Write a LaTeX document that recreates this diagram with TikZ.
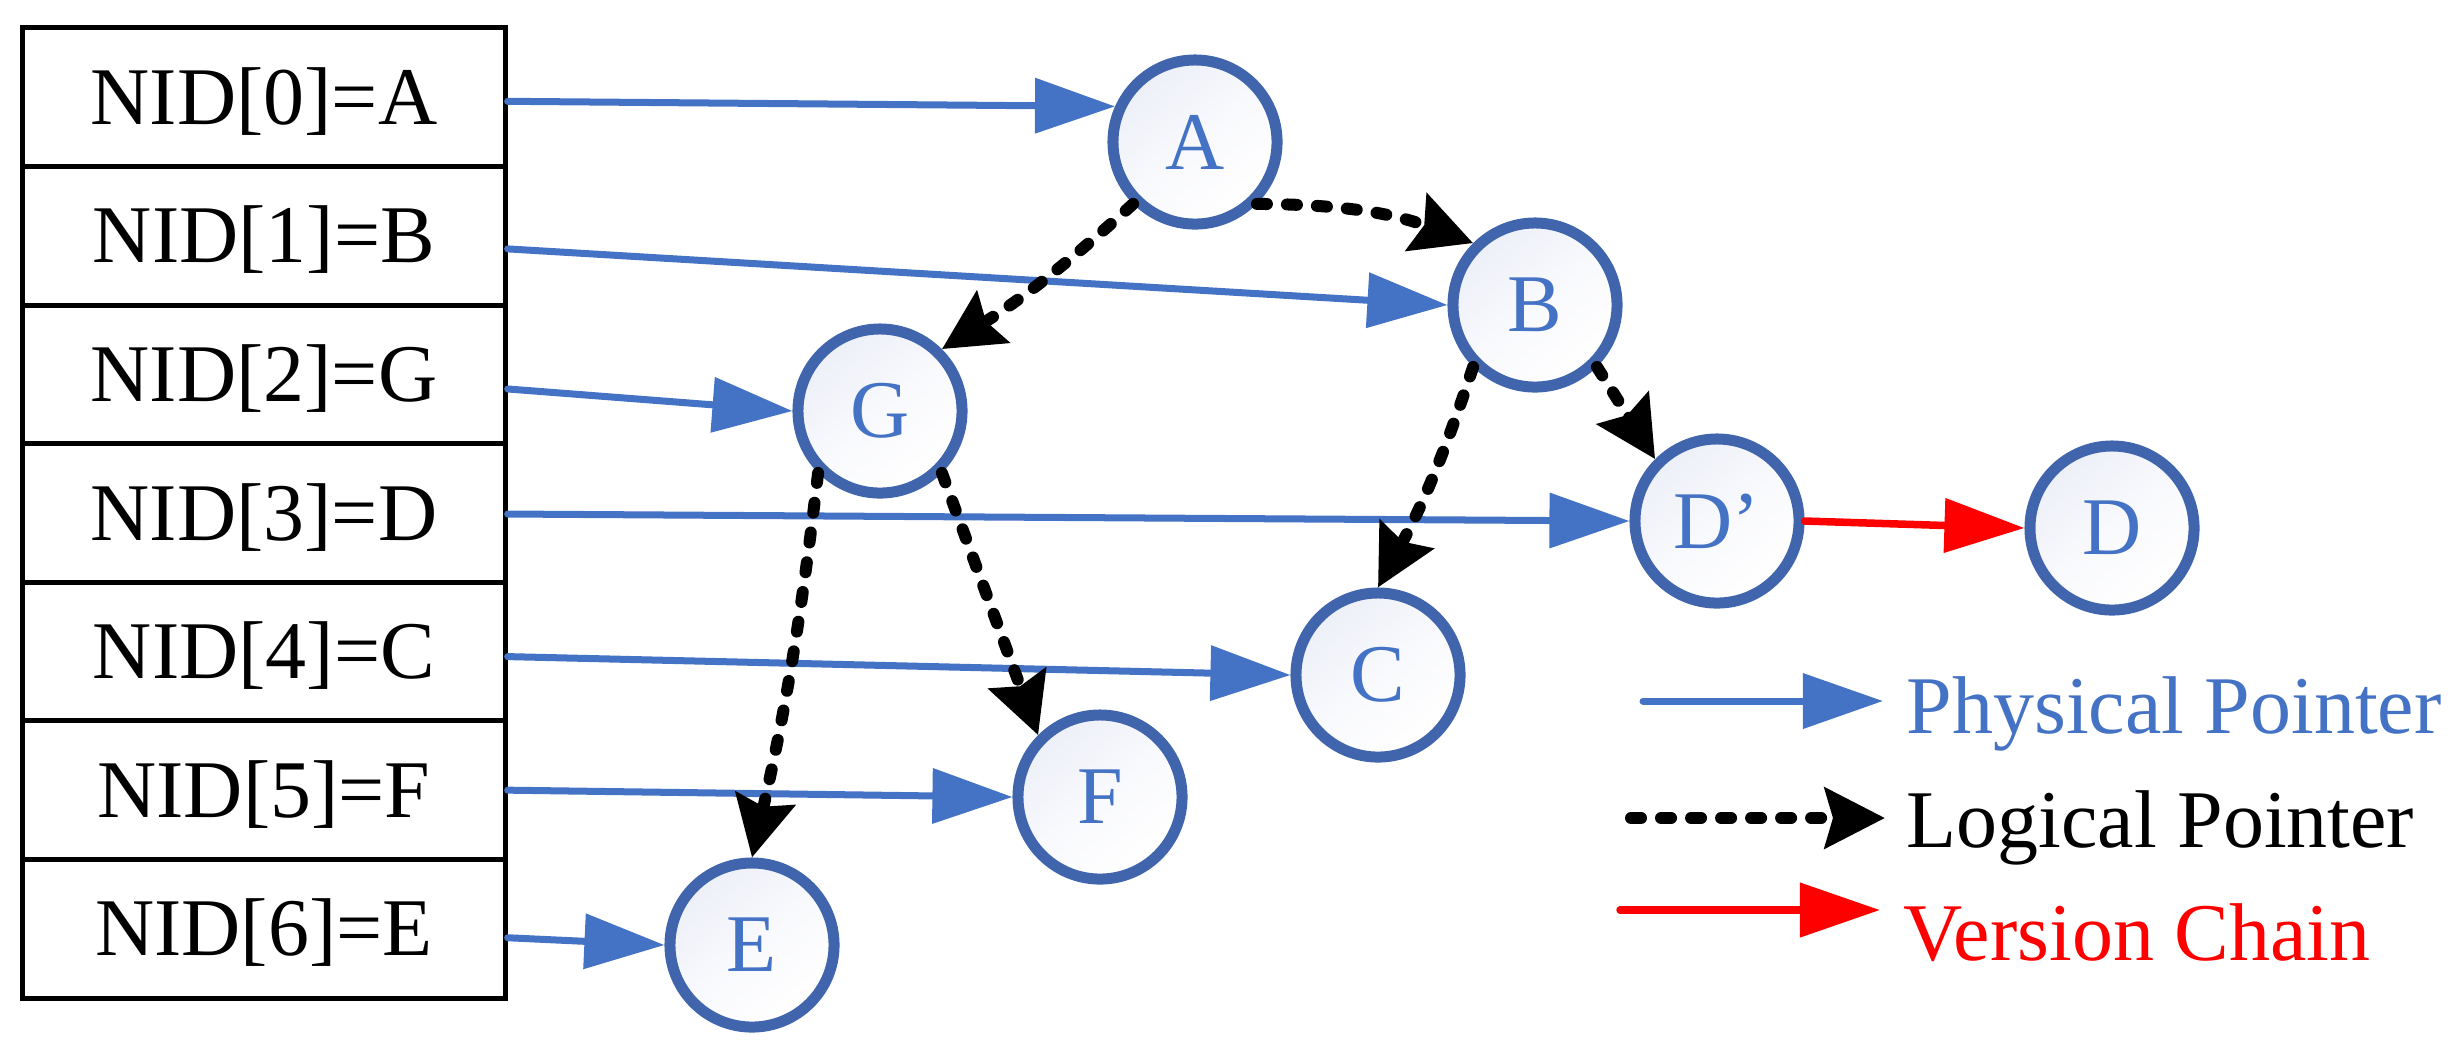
\documentclass[tikz,border=0pt]{standalone}
\usepackage{fontspec}
\setmainfont{Liberation Serif}
\usetikzlibrary{arrows.meta,calc}
\definecolor{pblue}{HTML}{4472C4}
\definecolor{cblue}{HTML}{4165AD}
\definecolor{cfill}{HTML}{EDEFF8}
\definecolor{vred}{HTML}{FF0000}
\begin{document}
\begin{tikzpicture}[x=0.01cm,y=-0.01cm,
  every node/.style={font=\fontsize{23.3}{28}\selectfont},
  rowbox/.style={draw=black, line width=0.05cm, minimum width=4.82cm, minimum height=1.3857cm, inner sep=0pt, text height=15.4pt, text depth=0pt},
  vtx/.style={circle, draw=cblue, line width=0.11cm, minimum size=1.64cm, inner sep=0pt, text=pblue, top color=cfill, bottom color=white, middle color=cfill!35!white, shading angle=40},
  phys/.style={draw=pblue, line width=0.07cm, line cap=round, -{Triangle[length=0.80cm,width=0.54cm]}},
  logi/.style={draw=black, line width=0.12cm, dash pattern=on 0.10cm off 0.20cm, line cap=round, -{Stealth[length=0.60cm,width=0.60cm,inset=0.08cm]}},
  vers/.style={draw=vred, line width=0.075cm, line cap=round, -{Triangle[length=0.80cm,width=0.53cm]}},
  legtext/.style={anchor=base west, inner sep=0pt}
]
\useasboundingbox (0,0) rectangle (2461,1056);

% table
\foreach \i/\t in {0/A,1/B,2/G,3/D,4/C,5/F,6/E}{
  \node[rowbox] (r\i) at (264,{97.29+138.57*\i}) {NID[\i]=\t};
}

% vertices
\node[vtx] (A)  at (1195,142) {A};
\node[vtx] (B)  at (1535,305) {B};
\node[vtx] (G)  at (880,411)  {G};
\node[vtx] (Dp) at (1717,521) {D’};
\node[vtx] (D)  at (2112,528) {D};
\node[vtx] (C)  at (1378,675) {C};
\node[vtx] (F)  at (1100,797) {F};
\node[vtx] (E)  at (752,945)  {E};

% physical pointers
\draw[phys] ([yshift=-0.04cm]r0.east) -- (A.156);
\draw[phys] ([yshift=-0.13cm]r1.east) -- (B.west);
\draw[phys] ([yshift=-0.145cm]r2.east) -- (G.west);
\draw[phys] ([yshift=-0.01cm]r3.east) -- (Dp.west);
\draw[phys] ([yshift=-0.05cm]r4.east) -- (C.west);
\draw[phys] (r5.east) -- (F.west);
\draw[phys] ([yshift=-0.09cm]r6.east) -- (E.west);

% logical pointers
\draw[logi] (A.-135) to[bend left=5] (G.45);
\draw[logi] (A.-45) to[bend left=10] (B.135);
\draw[logi] (B.-135) to[bend left=5] (C.90);
\draw[logi] (B.-45) -- (Dp.135);
\draw[logi] (G.-135) to[bend left=3] (E.90);
\draw[logi] (G.-45) -- (F.135);

% version chain
\draw[vers] (Dp.east) -- (D.west);

% legend
\coordinate (p1) at (1643,701); \coordinate (p2) at (1883,701);
\coordinate (l1) at (1631,818); \coordinate (l2) at (1885,818);
\coordinate (v1) at (1620,910); \coordinate (v2) at (1880,910);
\draw[phys] (p1) -- (p2);
\draw[logi] (l1) -- (l2);
\draw[vers] (v1) -- (v2);
\node[legtext, text=pblue] (lp) at (1906,733) {Physical Pointer};
\node[legtext, text=black] (ll) at (1906,847) {Logical Pointer};
\node[legtext, text=vred]  (lv) at (1903,960) {Version Chain};
\end{tikzpicture}
\end{document}
